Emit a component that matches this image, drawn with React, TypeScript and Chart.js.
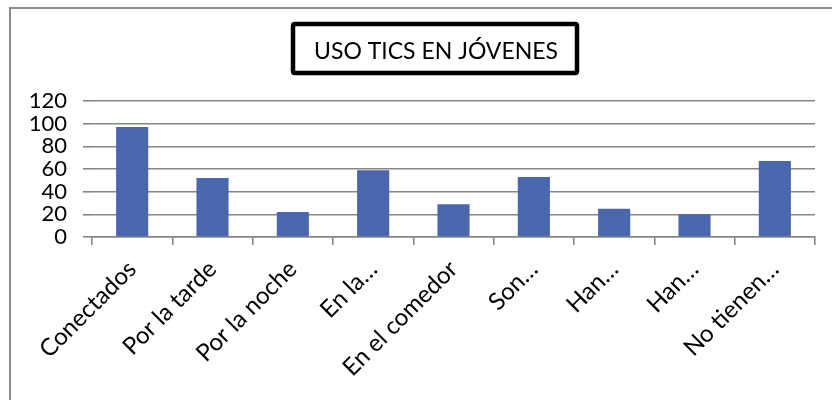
import React, { useEffect, useRef } from "react";
import { Chart, registerables } from "chart.js";

Chart.register(...registerables);

const TITLE = "USO TICS EN JÓVENES";
const CATEGORIES = [
  "Conectados",
  "Por la tarde",
  "Por la noche",
  "En la…",
  "En el comedor",
  "Son…",
  "Han…",
  "Han…",
  "No tienen…",
];
const VALUES = [97, 52, 22, 59, 29, 53, 25, 20, 67];
const Y_MIN = 0;
const Y_MAX = 120;
const Y_STEP = 20;

const FONT = "Lato, 'Open Sans', sans-serif";
const GRID = "#868686";
const BAR = "#4A66AC";

const framePlugin = {
  id: "frameAndTitle",
  beforeDraw(chart: any) {
    const ctx = chart.ctx;
    ctx.save();
    ctx.fillStyle = "#ffffff";
    ctx.fillRect(0, 0, chart.width, chart.height);
    ctx.strokeStyle = "#8c8c8c";
    ctx.lineWidth = 2;
    ctx.beginPath();
    ctx.moveTo(10, chart.height + 5);
    ctx.lineTo(10, 8);
    ctx.lineTo(chart.width + 5, 8);
    ctx.stroke();
    ctx.restore();
  },
  afterDraw(chart: any) {
    const ctx = chart.ctx;
    ctx.save();
    const bx = 293, by = 24, bw = 284, bh = 49;
    ctx.strokeStyle = "#000000";
    ctx.lineWidth = 4.5;
    ctx.lineJoin = "round";
    ctx.beginPath();
    const r = 2;
    ctx.moveTo(bx + r, by);
    ctx.lineTo(bx + bw - r, by);
    ctx.quadraticCurveTo(bx + bw, by, bx + bw, by + r);
    ctx.lineTo(bx + bw, by + bh - r);
    ctx.quadraticCurveTo(bx + bw, by + bh, bx + bw - r, by + bh);
    ctx.lineTo(bx + r, by + bh);
    ctx.quadraticCurveTo(bx, by + bh, bx, by + bh - r);
    ctx.lineTo(bx, by + r);
    ctx.quadraticCurveTo(bx, by, bx + r, by);
    ctx.stroke();
    ctx.fillStyle = "#000000";
    ctx.font = `23px ${FONT}`;
    ctx.textAlign = "left";
    ctx.textBaseline = "alphabetic";
    ctx.fillText(TITLE, 314, 58.5, 261);
    ctx.restore();
  },
};

export default function App() {
  const ref = useRef<HTMLCanvasElement | null>(null);
  useEffect(() => {
    document.body.style.margin = "0";
    const canvas = ref.current!;
    const chart = new Chart(canvas, {
      type: "bar",
      data: {
        labels: CATEGORIES,
        datasets: [
          {
            data: VALUES,
            backgroundColor: BAR,
            borderWidth: 0,
            categoryPercentage: 1,
            barPercentage: 0.4,
          },
        ],
      },
      options: {
        animation: false,
        responsive: false,
        maintainAspectRatio: false,
        layout: { padding: { left: 0, right: 17, top: 101, bottom: 0 } },
        plugins: {
          legend: { display: false },
          title: { display: false },
          tooltip: { enabled: false },
        },
        scales: {
          x: {
            offset: true,
            afterFit(scale: any) {
              scale.height = 163;
            },
            grid: {
              display: true,
              offset: true,
              drawOnChartArea: false,
              drawTicks: true,
              tickLength: 8,
              color: GRID,
              lineWidth: 1.6,
            },
            border: { display: true, color: GRID, width: 1.6 },
            ticks: {
              autoSkip: false,
              maxRotation: 45,
              minRotation: 45,
              padding: 10,
              color: "#000000",
              font: { family: FONT, size: 24 },
            },
          },
          y: {
            min: Y_MIN,
            max: Y_MAX,
            afterFit(scale: any) {
              scale.width = 92;
            },
            grid: {
              display: true,
              drawTicks: true,
              tickLength: 9,
              color: GRID,
              lineWidth: 1.6,
            },
            border: { display: false },
            ticks: {
              stepSize: Y_STEP,
              autoSkip: false,
              padding: 16,
              color: "#000000",
              font: { family: FONT, size: 22 },
            },
          },
        },
      },
      plugins: [framePlugin],
    } as any);
    return () => chart.destroy();
  }, []);
  return (
    <div style={{ position: "absolute", left: 0, top: 0, width: 832, height: 400 }}>
      <canvas ref={ref} width={832} height={400} style={{ width: 832, height: 400, display: "block" }} />
    </div>
  );
}
